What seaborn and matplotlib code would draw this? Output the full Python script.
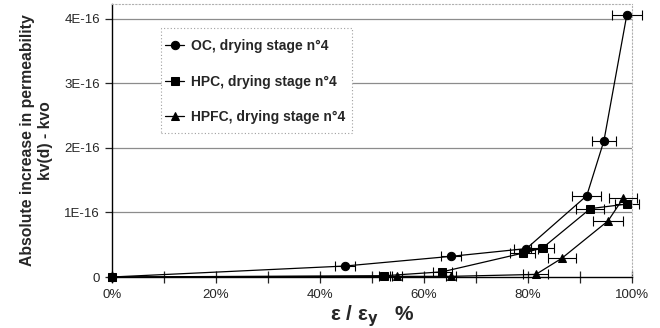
import numpy as np
import pandas as pd
import seaborn as sns
import matplotlib
matplotlib.use("Agg")
import matplotlib.pyplot as plt
from matplotlib.ticker import MultipleLocator
from matplotlib.patches import Rectangle

# ---- data (x in %, y in units of 1E-16) ----
oc_x = [0, 44.8, 65.2, 79.7, 91.3, 94.6, 99.0]
oc_y = [0, 0.17, 0.32, 0.44, 1.26, 2.11, 4.06]
oc_xerr = [0, 2.0, 1.9, 2.3, 2.8, 2.3, 2.9]

hpc_x = [0, 52.4, 63.5, 79.0, 82.8, 92.0, 99.0]
hpc_y = [0, 0.02, 0.08, 0.37, 0.45, 1.06, 1.13]
hpc_xerr = [0, 1.0, 1.8, 2.4, 2.2, 2.7, 2.3]

hpfc_x = [0, 54.8, 65.2, 81.5, 86.5, 95.4, 98.3]
hpfc_y = [0, 0.01, 0.01, 0.04, 0.29, 0.87, 1.22]
hpfc_xerr = [0, 1.0, 1.0, 2.4, 2.7, 2.9, 2.7]

labels = ["OC, drying stage n°4", "HPC, drying stage n°4", "HPFC, drying stage n°4"]
ytick_vals = [0, 1, 2, 3, 4]
ytick_labels = ["0", "1E-16", "2E-16", "3E-16", "4E-16"]
xtick_vals = [0, 20, 40, 60, 80, 100]
xtick_labels = ["0%", "20%", "40%", "60%", "80%", "100%"]

series = [(oc_x, oc_y, oc_xerr), (hpc_x, hpc_y, hpc_xerr), (hpfc_x, hpfc_y, hpfc_xerr)]
frames = []
for lab, (xs, ys, es) in zip(labels, series):
    frames.append(pd.DataFrame({"x": xs, "y": ys, "xerr": es, "series": lab}))
df = pd.concat(frames, ignore_index=True)

sns.set_style("white")
plt.rcParams["font.family"] = ["Liberation Sans", "DejaVu Sans"]

fig = plt.figure(figsize=(6.6, 3.28), dpi=100)
AX_W, AX_H = 520, 273
ax = fig.add_axes([112 / 660, 1 - 277 / 328, AX_W / 660, AX_H / 328])

marker_map = {labels[0]: "o", labels[1]: "s", labels[2]: "^"}

# grid lines
for v in ytick_vals[1:]:
    ax.axhline(v, color="#8c8c8c", lw=0.9, zorder=0)

for lab in labels:
    sub = df[df["series"] == lab]
    ax.errorbar(sub["x"], sub["y"], xerr=sub["xerr"], fmt="none", ecolor="black",
                elinewidth=0.8, capsize=3.5, capthick=0.8, zorder=2, clip_on=False)

sns.lineplot(data=df, x="x", y="y", hue="series", style="series",
             palette=["black"] * 3, markers=marker_map, dashes=False, sort=False,
             estimator=None, lw=0.9, markersize=6, markeredgecolor="black",
             ax=ax, zorder=3, clip_on=False)

ax.set_xlim(0, 100)
ax.set_ylim(0, 4.23)
ax.set_xticks(xtick_vals)
ax.set_xticklabels(xtick_labels, fontsize=9.5)
ax.xaxis.set_minor_locator(MultipleLocator(10))
ax.set_yticks(ytick_vals)
ax.set_yticklabels(ytick_labels, fontsize=9.5)
ax.tick_params(axis="x", which="both", direction="inout", length=8, width=0.9, pad=5, bottom=True)
ax.tick_params(axis="y", which="major", direction="out", length=5, width=0.9, left=True)

for side in ["top", "right"]:
    ax.spines[side].set_linestyle((0, (1, 2)))
    ax.spines[side].set_color("#b0b0b0")
    ax.spines[side].set_linewidth(0.8)
for side in ["left", "bottom"]:
    ax.spines[side].set_color("black")
    ax.spines[side].set_linewidth(1.0)

ax.set_xlabel("ε / ε$_{\\mathbf{y}}$   %", fontsize=15, fontweight="bold", labelpad=1)
ax.set_ylabel("Absolute increase in permeability\nkv(d) - kvo", fontsize=11.3,
              fontweight="bold", labelpad=8, linespacing=1.3)

# legend box (opaque, dotted border)
box = Rectangle((49 / AX_W, (277 - 133) / AX_H), (352 - 161) / AX_W, (133 - 28) / AX_H,
                transform=ax.transAxes, facecolor="white", edgecolor="#a0a0a0",
                linestyle=(0, (1, 2)), linewidth=0.8, zorder=4)
ax.add_patch(box)

handles, labs = ax.get_legend_handles_labels()
leg = ax.legend(handles, labs, loc="upper left",
                bbox_to_anchor=((165 - 112) / AX_W, (277 - 39) / AX_H),
                frameon=False, fontsize=10, labelspacing=1.55,
                handlelength=1.4, handletextpad=0.45, borderpad=0, borderaxespad=0)
leg.set_zorder(5)
for t in leg.get_texts():
    t.set_fontweight("bold")

fig.savefig("out.png", dpi=100)
